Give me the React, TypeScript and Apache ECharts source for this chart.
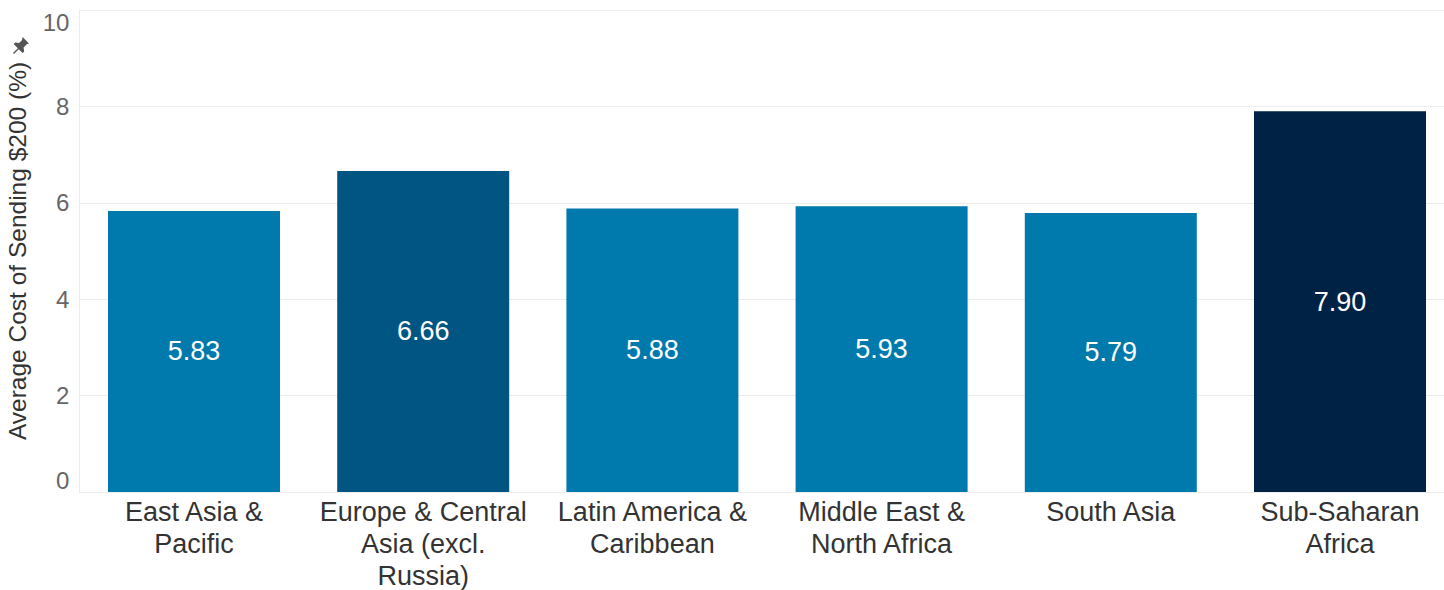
import React, { useEffect, useRef } from "react";
import * as echarts from "echarts";

const categories = [
  "East Asia &\nPacific",
  "Europe & Central\nAsia (excl.\nRussia)",
  "Latin America &\nCaribbean",
  "Middle East &\nNorth Africa",
  "South Asia",
  "Sub-Saharan\nAfrica",
];
const values = [5.83, 6.66, 5.88, 5.93, 5.79, 7.9];
const barColors = ["#0079AD", "#005582", "#0079AD", "#0079AD", "#0079AD", "#002244"];
const yTicks = [0, 2, 4, 6, 8, 10];
const yTitle = "Average Cost of Sending $200 (%)";

const FONT = "'Liberation Sans', Arial, sans-serif";

echarts.graphic.registerShape(
  "pin",
  echarts.graphic.extendPath(
    "M6 0 L10 4 L8.6 4.6 L6.6 6.6 L7 9 L6 10 L3.6 7.6 L0.6 10.6 L0 10 L3 7 L0.4 4.4 L1.4 3.4 L3.8 3.8 L5.6 2 Z",
    {}
  )
);

export default function App() {
  const ref = useRef<HTMLDivElement>(null);
  useEffect(() => {
    if (!ref.current) return;
    const chart = echarts.init(ref.current, null, { renderer: "svg" });
    chart.setOption({
      animation: false,
      backgroundColor: "#ffffff",
      grid: {
        left: 79.4,
        right: 15.4,
        top: 10,
        bottom: 98,
        containLabel: false,
        outerBoundsMode: "none",
      },
      xAxis: {
        type: "category",
        data: categories,
        axisLine: { show: true, lineStyle: { color: "#ececec", width: 1 } },
        axisTick: { show: false },
        axisLabel: {
          interval: 0,
          color: "#333333",
          fontFamily: FONT,
          fontSize: 27,
          lineHeight: 32,
          margin: 4,
        },
      },
      yAxis: {
        type: "value",
        min: 0,
        max: 10,
        interval: 2,
        name: yTitle,
        nameLocation: "middle",
        nameRotate: 90,
        nameGap: 49,
        nameTextStyle: { color: "#333333", fontFamily: FONT, fontSize: 24.5 },
        axisLine: { show: true, lineStyle: { color: "#ececec", width: 1 } },
        axisTick: { show: false },
        splitLine: { show: true, lineStyle: { color: "#ececec", width: 1 } },
        axisLabel: {
          color: "#666666",
          fontFamily: FONT,
          fontSize: 24,
          margin: 10,
          verticalAlignMinLabel: "bottom",
          verticalAlignMaxLabel: "top",
          formatter: (v: number) => (yTicks.includes(v) ? String(v) : ""),
        },
      },
      series: [
        {
          type: "bar",
          barWidth: 172,
          data: values.map((v, i) => ({ value: v, itemStyle: { color: barColors[i] } })),
          label: {
            show: true,
            position: "inside",
            color: "#ffffff",
            fontFamily: FONT,
            fontSize: 27,
            formatter: (p: any) => Number(p.value).toFixed(2),
          },
        },
      ],
      graphic: [
        {
          type: "pin",
          x: 13,
          y: 37,
          scaleX: 1.6,
          scaleY: 1.6,
          style: { fill: "#555555" },
        },
      ],
    });
    return () => chart.dispose();
  }, []);
  return (
    <div
      style={{
        position: "absolute",
        left: 0,
        top: 0,
        width: 1444,
        height: 590,
        overflow: "hidden",
        background: "#fff",
      }}
    >
      <div ref={ref} style={{ width: 1470, height: 590 }} />
    </div>
  );
}
